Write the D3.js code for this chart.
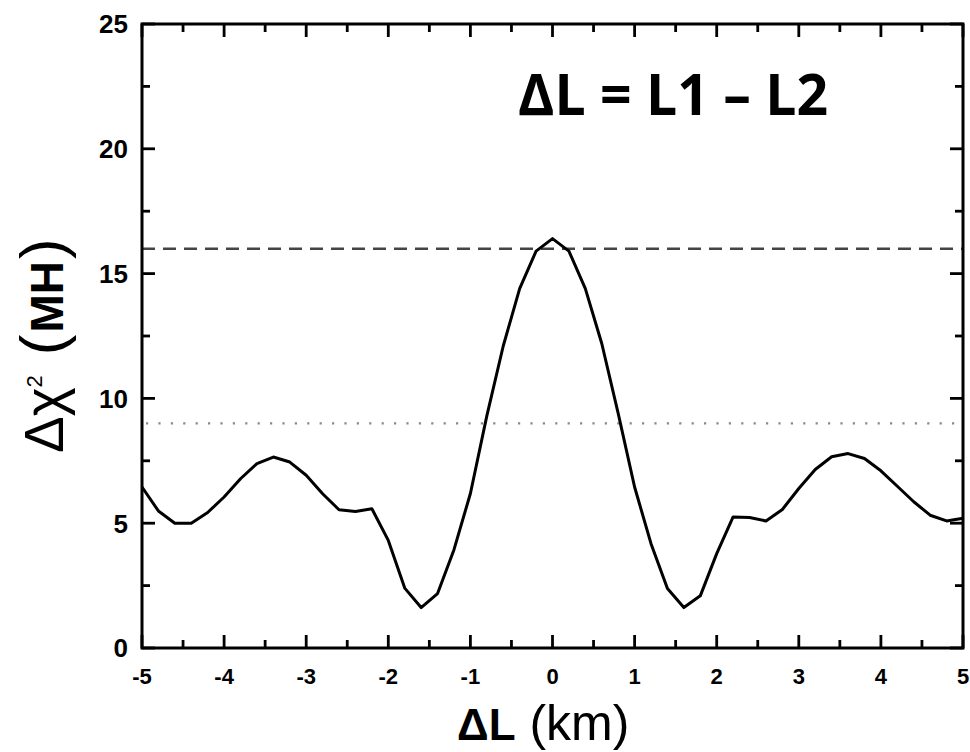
<!DOCTYPE html>
<html>
<head>
<meta charset="utf-8">
<script src="https://cdn.jsdelivr.net/npm/d3@7"></script>
<style>
  body { margin: 0; background: #fff; }
  svg { display: block; }
</style>
</head>
<body>
<svg id="chart" width="970" height="752"></svg>
<script>
// delta L values (km), one point every 0.2
const dL = d3.range(51).map(i => +(-5 + i * 0.2).toFixed(1));
// delta chi^2 (MH)
const dChi2 = [
  6.45, 5.49, 5.00, 5.00, 5.43, 6.05, 6.78, 7.39, 7.65, 7.45,
  6.92, 6.18, 5.54, 5.47, 5.58, 4.31, 2.40, 1.62, 2.18, 3.94,
  6.19, 9.30, 12.1, 14.4, 15.9, 16.4, 15.9, 14.4, 12.2, 9.40,
  6.45, 4.18, 2.38, 1.62, 2.09, 3.78, 5.25, 5.23, 5.09, 5.55,
  6.39, 7.15, 7.66, 7.79, 7.59, 7.10, 6.48, 5.86, 5.32, 5.09,
  5.20
];
const refLines = [16, 9];
const xTicks = [-5, -4, -3, -2, -1, 0, 1, 2, 3, 4, 5];
const yTicks = [0, 5, 10, 15, 20, 25];
const xMinor = [-4.5, -3.5, -2.5, -1.5, -0.5, 0.5, 1.5, 2.5, 3.5, 4.5];
const yMinor = [2.5, 7.5, 12.5, 17.5, 22.5];

const pLeft = 142, pRight = 963, pTop = 24, pBottom = 648;
const majorLen = 13, minorLen = 8;

const svg = d3.select("#chart");

const x = d3.scaleLinear().domain([-5, 5]).range([pLeft, pRight]);
const y = d3.scaleLinear().domain([0, 25]).range([pBottom, pTop]);

// reference lines
svg.append("line")
  .attr("x1", pLeft).attr("x2", pRight)
  .attr("y1", y(refLines[0])).attr("y2", y(refLines[0]))
  .attr("stroke", "#444").attr("stroke-width", 2.5)
  .attr("stroke-dasharray", "13,8");

svg.append("line")
  .attr("x1", pLeft + 4).attr("x2", pRight)
  .attr("y1", y(refLines[1])).attr("y2", y(refLines[1]))
  .attr("stroke", "#888").attr("stroke-width", 2.2)
  .attr("stroke-dasharray", "2.2,10.2");

// the curve
const line = d3.line()
  .x((d, i) => x(dL[i]))
  .y(d => y(d));

svg.append("path")
  .datum(dChi2)
  .attr("fill", "none")
  .attr("stroke", "#000")
  .attr("stroke-width", 3)
  .attr("stroke-linejoin", "round")
  .attr("d", line);

// frame
svg.append("rect")
  .attr("x", pLeft).attr("y", pTop)
  .attr("width", pRight - pLeft).attr("height", pBottom - pTop)
  .attr("fill", "none")
  .attr("stroke", "#000")
  .attr("stroke-width", 3);

// inward ticks on all four sides
const xTickData = xTicks.map(v => [v, majorLen]).concat(xMinor.map(v => [v, minorLen]));
const yTickData = yTicks.map(v => [v, majorLen]).concat(yMinor.map(v => [v, minorLen]));

const tickG = svg.append("g").attr("stroke", "#000").attr("stroke-width", 2.8);

tickG.selectAll("line.xb").data(xTickData).join("line").attr("class", "xb")
  .attr("x1", d => x(d[0])).attr("x2", d => x(d[0]))
  .attr("y1", pBottom).attr("y2", d => pBottom - d[1]);

tickG.selectAll("line.xt").data(xTickData).join("line").attr("class", "xt")
  .attr("x1", d => x(d[0])).attr("x2", d => x(d[0]))
  .attr("y1", pTop).attr("y2", d => pTop + d[1]);

tickG.selectAll("line.yl").data(yTickData).join("line").attr("class", "yl")
  .attr("x1", pLeft).attr("x2", d => pLeft + d[1])
  .attr("y1", d => y(d[0])).attr("y2", d => y(d[0]));

tickG.selectAll("line.yr").data(yTickData).join("line").attr("class", "yr")
  .attr("x1", pRight).attr("x2", d => pRight - d[1])
  .attr("y1", d => y(d[0])).attr("y2", d => y(d[0]));

// tick labels
svg.append("g")
  .selectAll("text")
  .data(xTicks)
  .join("text")
  .attr("x", d => x(d))
  .attr("y", 684)
  .attr("text-anchor", "middle")
  .attr("font-family", "'Liberation Sans', Arial, sans-serif")
  .attr("font-weight", "bold")
  .attr("font-size", 22)
  .attr("fill", "#000")
  .text(d => d < 0 ? "-" + Math.abs(d) : d);

svg.append("g")
  .selectAll("text")
  .data(yTicks)
  .join("text")
  .attr("x", 128)
  .attr("y", d => y(d))
  .attr("dy", "0.36em")
  .attr("text-anchor", "end")
  .attr("font-family", "'Liberation Sans', Arial, sans-serif")
  .attr("font-weight", "bold")
  .attr("font-size", 26)
  .attr("fill", "#000")
  .text(d => d);

// x axis title
const xTitle = svg.append("text")
  .attr("x", 457)
  .attr("y", 740)
  .attr("font-family", "'Liberation Sans', Arial, sans-serif")
  .attr("fill", "#000");
xTitle.append("tspan").attr("font-size", 44).attr("font-weight", "bold").text("ΔL");
xTitle.append("tspan").attr("font-size", 50).text(" (km)");

// y axis title, reads bottom to top
const yTitle = svg.append("text")
  .attr("transform", "translate(63,453) rotate(-90)")
  .attr("font-family", "'Liberation Sans', Arial, sans-serif")
  .attr("fill", "#000");
yTitle.append("tspan").attr("font-size", 55).text("Δχ");
yTitle.append("tspan").attr("font-size", 22).attr("dy", -21).text("2");
yTitle.append("tspan").attr("font-size", 62).attr("dy", 21).attr("dx", 20).text("(");
yTitle.append("tspan").attr("font-size", 46).attr("font-weight", "bold").attr("dx", 2).text("MH");
yTitle.append("tspan").attr("font-size", 62).attr("dx", 2).text(")");

// annotation
svg.append("text")
  .attr("x", 518)
  .attr("y", 115)
  .attr("font-family", "'Open Sans', 'Liberation Sans', sans-serif")
  .attr("font-weight", "bold")
  .attr("font-size", 58)
  .attr("textLength", 310)
  .attr("lengthAdjust", "spacingAndGlyphs")
  .attr("fill", "#000")
  .text("ΔL = L1 – L2");
</script>
</body>
</html>
